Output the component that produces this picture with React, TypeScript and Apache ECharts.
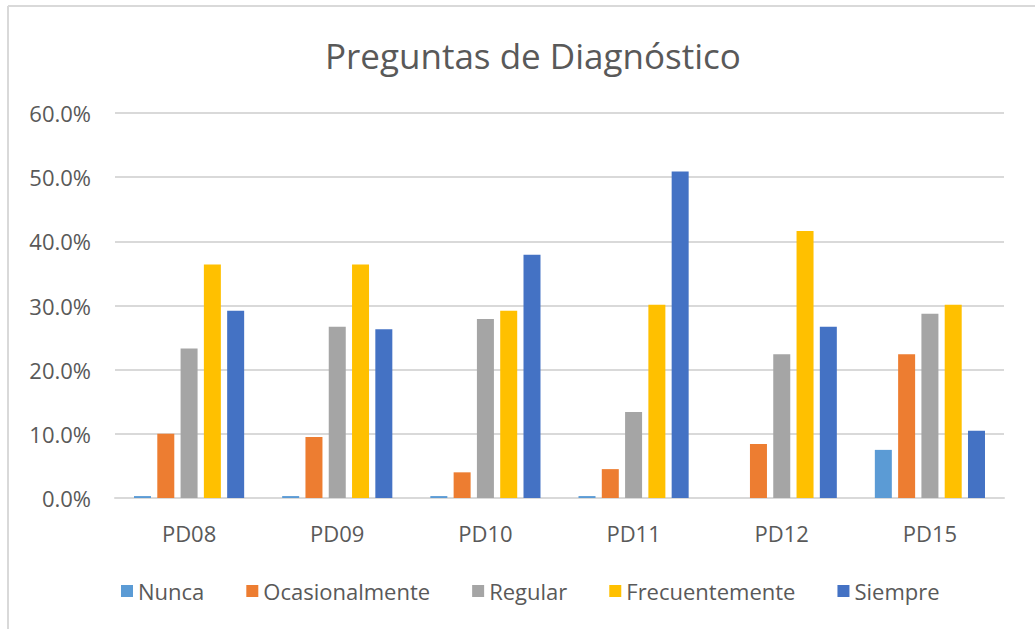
import React, { useEffect, useRef } from "react";
import * as echarts from "echarts";

const categories = ["PD08", "PD09", "PD10", "PD11", "PD12", "PD15"];
const seriesNames = ["Nunca", "Ocasionalmente", "Regular", "Frecuentemente", "Siempre"];
const nunca = [0.3, 0.3, 0.3, 0.3, 0, 7.5];
const ocasionalmente = [10.0, 9.5, 4.0, 4.5, 8.4, 22.4];
const regular = [23.3, 26.7, 27.9, 13.4, 22.4, 28.7];
const frecuentemente = [36.4, 36.4, 29.2, 30.1, 41.6, 30.1];
const siempre = [29.2, 26.3, 37.9, 50.9, 26.7, 10.5];
const yTicks = [0, 10, 20, 30, 40, 50, 60];

const colors = ["#5B9BD5", "#ED7D31", "#A5A5A5", "#FFC000", "#4472C4"];
const FONT = "Open Sans";

export default function App() {
  const ref = useRef<HTMLDivElement>(null);
  useEffect(() => {
    document.body.style.margin = "0";
    const chart = echarts.init(ref.current!, null, { renderer: "svg" });
    const data = [nunca, ocasionalmente, regular, frecuentemente, siempre];
    chart.setOption({
      animation: false,
      backgroundColor: "#ffffff",
      color: colors,
      title: {
        text: "Preguntas de Diagnóstico",
        left: 320,
        top: 33,
        textStyle: { fontFamily: FONT, fontSize: 35, fontWeight: "normal", color: "#595959" },
      },
      graphic: [
        { type: "line", shape: { x1: 8, y1: 6, x2: 1035, y2: 6 }, style: { stroke: "#d9d9d9", lineWidth: 2 } },
        { type: "line", shape: { x1: 8, y1: 6, x2: 8, y2: 629 }, style: { stroke: "#d9d9d9", lineWidth: 2 } },
      ],
      legend: {
        data: seriesNames,
        bottom: 22,
        left: 116,
        itemWidth: 12,
        itemHeight: 12,
        itemGap: 42,
        icon: "rect",
        textStyle: { fontFamily: FONT, fontSize: 22, color: "#595959" },
      },
      grid: { left: 115, right: 31, top: 113, bottom: 131 },
      xAxis: {
        type: "category",
        data: categories,
        axisTick: { show: false },
        axisLine: { lineStyle: { color: "#d9d9d9", width: 2 } },
        axisLabel: { fontFamily: FONT, fontSize: 22, color: "#595959", margin: 24 },
      },
      yAxis: {
        type: "value",
        min: yTicks[0],
        max: yTicks[yTicks.length - 1],
        interval: 10,
        axisLabel: {
          fontFamily: FONT,
          fontSize: 22,
          color: "#595959",
          margin: 24,
          formatter: (v: number) => v.toFixed(1) + "%",
        },
        splitLine: { lineStyle: { color: "#d9d9d9", width: 2 } },
        axisLine: { show: false },
        axisTick: { show: false },
      },
      series: seriesNames.map((name, i) => ({
        name,
        type: "bar",
        data: data[i],
        barWidth: 17,
        barGap: "37%",
        itemStyle: { color: colors[i] },
      })),
    });
    return () => chart.dispose();
  }, []);
  return <div ref={ref} style={{ width: 1035, height: 629 }} />;
}
